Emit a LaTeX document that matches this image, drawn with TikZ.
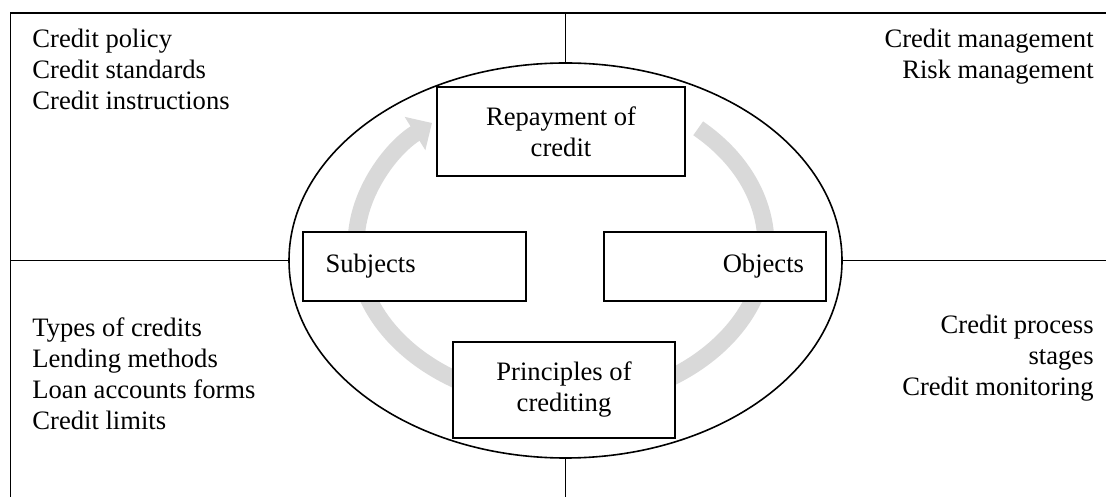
\documentclass[tikz,border=0pt]{standalone}
\usepackage{fontspec}
\setmainfont{Liberation Serif}
\usetikzlibrary{shapes.geometric,arrows.meta}
\begin{document}
\begin{tikzpicture}[x=0.5pt,y=0.5pt]
			\tikzstyle{BX}=[rectangle,draw=black,line width=0.8pt,fill=white,inner sep=0pt,align=center,font=\fontsize{13.3}{15.5}\selectfont]
			\tikzstyle{LST}=[inner sep=0pt,font=\fontsize{13.3}{15.5}\selectfont]
			\tikzstyle{CYC}=[line width=8.5pt,draw=gray!30,-{Triangle[length=10pt,width=19pt]}]
			\useasboundingbox (0,0) rectangle (1106,497);
			\coordinate (fr-tl) at (10.5,484);
			\coordinate (fr-tr) at (1106,484);
			\coordinate (fr-b) at (565.5,0);
			\coordinate (cyc) at (561,252);

			% frame and dividers
			\draw[line width=0.9pt] (fr-tr) -- (fr-tl) -- (fr-tl |- fr-b);
			\node[ellipse,draw=black,line width=0.8pt,minimum width=276.5pt,minimum height=197.5pt,inner sep=0pt] (ell) at (565.5,236.5) {};
			\path[draw=black,line width=0.9pt]
			(ell.north |- fr-tl) edge (ell.north)
			(ell.south) edge (fr-b)
			(ell.west -| fr-tl) edge (ell.west)
			(ell.east) edge (ell.east -| fr-tr)
			;

			% cycle arrow
			\draw[CYC] (cyc) ++(48:205 and 157) arc[start angle=48,end angle=-231,x radius=205,y radius=157];

			\begin{scope}
			\node[BX,minimum width=124pt,minimum height=44.5pt] (repay) at (561,365.5) {Repayment of\\credit};
			\node[BX,minimum width=111.5pt,minimum height=34.5pt,text width=89pt,align=left] (subj) at (414.5,230.5) {Subjects};
			\node[BX,minimum width=111pt,minimum height=34.5pt,text width=89pt,align=right] (obj) at (715,230.5) {Objects};
			\node[BX,minimum width=111pt,minimum height=48pt] (princ) at (564,107) {Principles of\\crediting};
			\end{scope}

			\node[LST,anchor=north west,align=left] (pol) at (32,468) {Credit policy\\Credit standards\\Credit instructions};
			\node[LST,anchor=north east,align=right] (mng) at (1094,468) {Credit management\\Risk management};
			\node[LST,anchor=north west,align=left] (typ) at (32,180) {Types of credits\\Lending methods\\Loan accounts forms\\Credit limits};
			\node[LST,anchor=north east,align=right] (proc) at (1094,182) {Credit process\\stages\\Credit monitoring};
		\end{tikzpicture}
\end{document}
